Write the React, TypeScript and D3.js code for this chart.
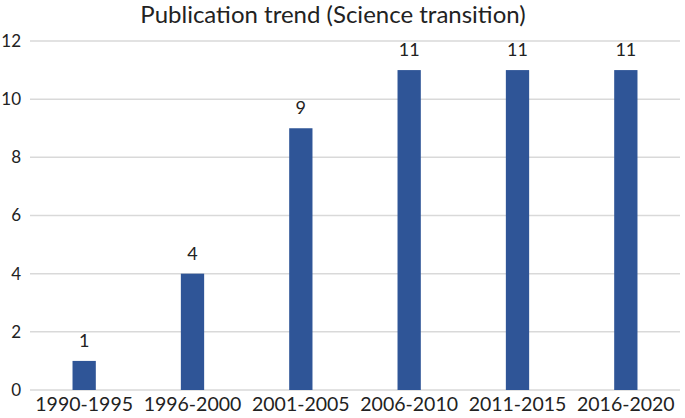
import React, { useEffect, useRef } from "react";
import * as d3 from "d3";

const categories = ["1990-1995", "1996-2000", "2001-2005", "2006-2010", "2011-2015", "2016-2020"];
const counts = [1, 4, 9, 11, 11, 11];
const yTicks = [0, 2, 4, 6, 8, 10, 12];

const App = () => {
  const svgRef = useRef<SVGSVGElement>(null);

  useEffect(() => {
    const w = 685;
    const h = 418;
    const left = 30;
    const right = 680;
    const top = 41;
    const bottom = 390;
    const font = "Lato, 'Open Sans', sans-serif";

    const svg = d3.select(svgRef.current).attr("width", w).attr("height", h);
    svg.selectAll("*").remove();

    const x = d3.scaleBand().domain(categories).range([left, right]).padding(0);
    const y = d3.scaleLinear().domain([0, 12]).range([bottom, top]);
    const barW = x.bandwidth() * 0.215;

    // gridlines
    svg
      .append("g")
      .selectAll("line")
      .data(yTicks)
      .join("line")
      .attr("x1", left)
      .attr("x2", right)
      .attr("y1", (d) => y(d))
      .attr("y2", (d) => y(d))
      .attr("stroke", "#d9d9d9")
      .attr("stroke-width", 1.5);

    // y labels
    svg
      .append("g")
      .selectAll("text")
      .data(yTicks)
      .join("text")
      .attr("x", 21)
      .attr("y", (d) => y(d))
      .attr("dy", "0.35em")
      .attr("text-anchor", "end")
      .style("font-family", font)
      .style("font-size", "17px")
      .style("fill", "#222")
      .text((d) => d);

    // bars
    svg
      .append("g")
      .selectAll("rect")
      .data(counts)
      .join("rect")
      .attr("x", (d, i) => x(categories[i])! + x.bandwidth() / 2 - barW / 2)
      .attr("y", (d) => y(d))
      .attr("width", barW)
      .attr("height", (d) => bottom - y(d))
      .attr("fill", "#2f5597");

    // value labels
    svg
      .append("g")
      .selectAll("text")
      .data(counts)
      .join("text")
      .attr("x", (d, i) => x(categories[i])! + x.bandwidth() / 2)
      .attr("y", (d) => y(d) - 14)
      .attr("text-anchor", "middle")
      .style("font-family", font)
      .style("font-size", "18px")
      .style("fill", "#222")
      .text((d) => d);

    // x labels
    svg
      .append("g")
      .selectAll("text")
      .data(categories)
      .join("text")
      .attr("x", (d) => x(d)! + x.bandwidth() / 2)
      .attr("y", 411)
      .attr("text-anchor", "middle")
      .style("font-family", font)
      .style("font-size", "19.5px")
      .style("fill", "#222")
      .text((d) => d);

    // title
    svg
      .append("text")
      .attr("x", 333)
      .attr("y", 23)
      .attr("text-anchor", "middle")
      .style("font-family", font)
      .style("font-size", "24px")
      .style("fill", "#222")
      .text("Publication trend (Science transition)");
  }, []);

  return (
    <div style={{ position: "absolute", left: 0, top: 0, background: "white" }}>
      <svg ref={svgRef}></svg>
    </div>
  );
};

export default App;
